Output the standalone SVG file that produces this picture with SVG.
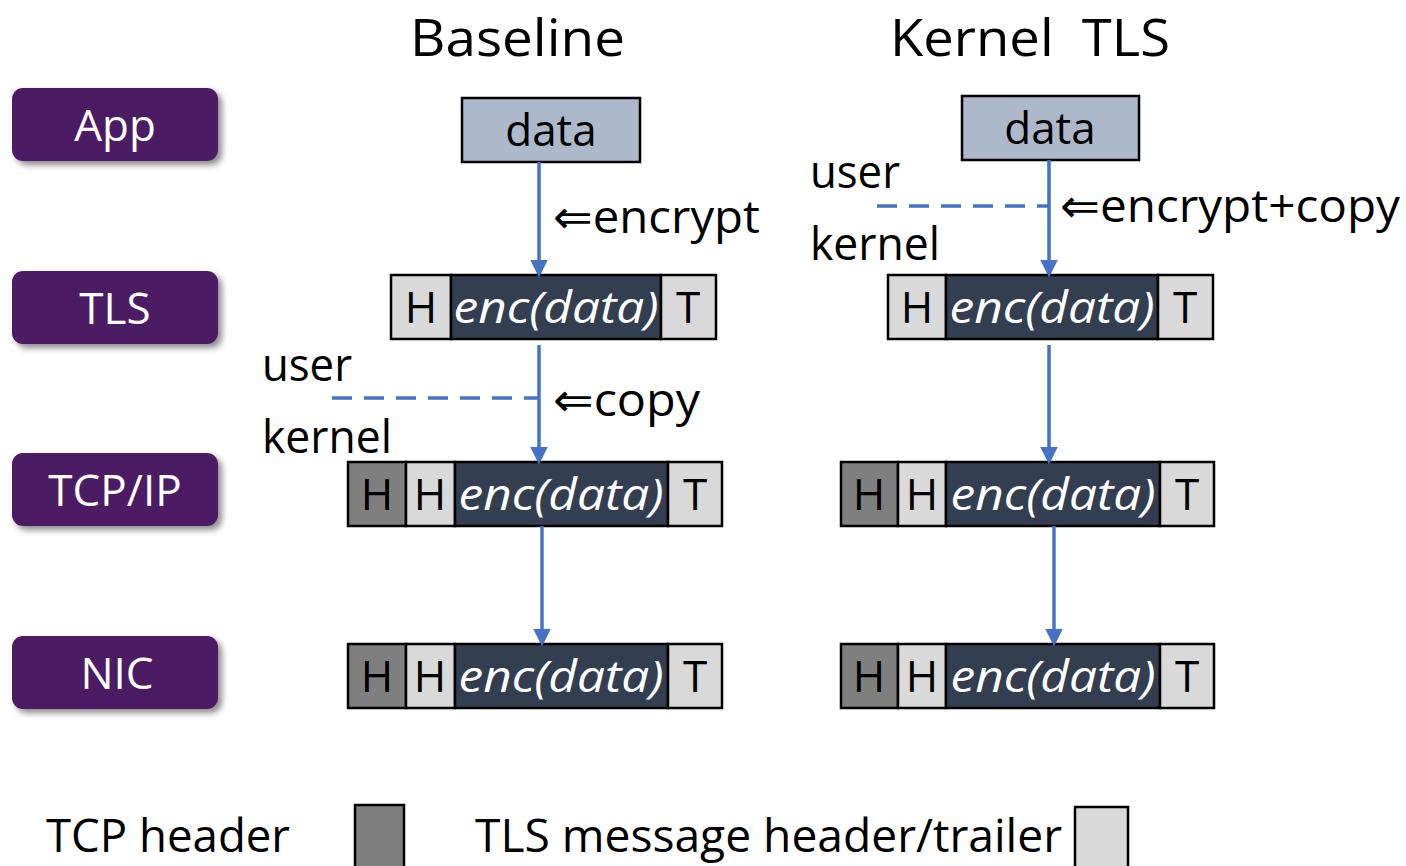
<svg xmlns="http://www.w3.org/2000/svg" width="1406" height="866" viewBox="0 0 1406 866">
<style>
text{font-family:"Open Sans","Noto Sans","DejaVu Sans",sans-serif;fill:#000}
.title{font-size:52px}
.lbl{font-size:46px}
.btn{fill:#4b1d63}
.btxt{font-size:44px;fill:#fff;text-anchor:middle}
.cell{stroke:#000;stroke-width:2.5}
.tcp{fill:#7f7f7f}
.tls{fill:#d9d9d9}
.enc{fill:#333f50}
.data{fill:#adb9ca;stroke:#000;stroke-width:2.5}
.ch{font-size:44px;text-anchor:middle}
.et{font-size:44px;font-style:italic;fill:#fff;text-anchor:middle}
.arr{stroke:#4472c4;stroke-width:3.5;fill:none;marker-end:url(#ah)}
.dash{stroke:#4472c4;stroke-width:3.5;fill:none;stroke-dasharray:20 12}
</style>
<defs>
<marker id="ah" markerWidth="5" markerHeight="5" refX="4" refY="2.5" orient="auto" markerUnits="strokeWidth"><path d="M0,0 L5,2.5 L0,5 z" fill="#4472c4"/></marker>
<filter id="sh" x="-10%" y="-20%" width="130%" height="160%"><feDropShadow dx="4" dy="4" stdDeviation="3" flood-color="#000" flood-opacity="0.45"/></filter>
</defs>

<g id="titles">
<text class="title" x="410" y="56" textLength="215" lengthAdjust="spacingAndGlyphs">Baseline</text>
<text class="title" x="890" y="56" textLength="280" lengthAdjust="spacingAndGlyphs" xml:space="preserve">Kernel  TLS</text>
</g>

<g id="layer-app"><rect class="btn" x="12" y="88" width="206" height="73" rx="11" filter="url(#sh)"/><text class="btxt" x="115" y="141">App</text></g>
<g id="layer-tls"><rect class="btn" x="12" y="271" width="206" height="73" rx="11" filter="url(#sh)"/><text class="btxt" x="115" y="324">TLS</text></g>
<g id="layer-tcpip"><rect class="btn" x="12" y="453" width="206" height="73" rx="11" filter="url(#sh)"/><text class="btxt" x="115" y="506">TCP/IP</text></g>
<g id="layer-nic"><rect class="btn" x="12" y="636" width="206" height="73" rx="11" filter="url(#sh)"/><text class="btxt" x="117" y="689">NIC</text></g>

<g id="base-data"><rect class="data" x="462" y="98" width="178" height="64"/><text class="ch" x="551" y="146">data</text></g>
<g id="base-tls">
<rect class="cell tls" x="391" y="275" width="60" height="64"/>
<rect class="cell enc" x="451" y="275" width="210" height="64"/>
<rect class="cell tls" x="661" y="275" width="55" height="64"/>
<text class="ch" x="421" y="323">H</text>
<text class="et" x="556" y="323" textLength="205" lengthAdjust="spacingAndGlyphs">enc(data)</text>
<text class="ch" x="688" y="323">T</text>
</g>
<g id="base-tcp">
<rect class="cell tcp" x="348" y="462" width="58" height="64"/>
<rect class="cell tls" x="406" y="462" width="49" height="64"/>
<rect class="cell enc" x="455" y="462" width="213" height="64"/>
<rect class="cell tls" x="668" y="462" width="54" height="64"/>
<text class="ch" x="377" y="510">H</text>
<text class="ch" x="430" y="510">H</text>
<text class="et" x="561" y="510" textLength="205" lengthAdjust="spacingAndGlyphs">enc(data)</text>
<text class="ch" x="695" y="510">T</text>
</g>
<g id="base-nic">
<rect class="cell tcp" x="348" y="644" width="58" height="64"/>
<rect class="cell tls" x="406" y="644" width="49" height="64"/>
<rect class="cell enc" x="455" y="644" width="213" height="64"/>
<rect class="cell tls" x="668" y="644" width="54" height="64"/>
<text class="ch" x="377" y="692">H</text>
<text class="ch" x="430" y="692">H</text>
<text class="et" x="561" y="692" textLength="205" lengthAdjust="spacingAndGlyphs">enc(data)</text>
<text class="ch" x="695" y="692">T</text>
</g>

<g id="ktls-data"><rect class="data" x="962" y="96" width="177" height="64"/><text class="ch" x="1050" y="144">data</text></g>
<g id="ktls-tls">
<rect class="cell tls" x="888" y="275" width="58" height="64"/>
<rect class="cell enc" x="946" y="275" width="212" height="64"/>
<rect class="cell tls" x="1158" y="275" width="55" height="64"/>
<text class="ch" x="917" y="323">H</text>
<text class="et" x="1052" y="323" textLength="205" lengthAdjust="spacingAndGlyphs">enc(data)</text>
<text class="ch" x="1185" y="323">T</text>
</g>
<g id="ktls-tcp">
<rect class="cell tcp" x="841" y="462" width="57" height="64"/>
<rect class="cell tls" x="898" y="462" width="48" height="64"/>
<rect class="cell enc" x="946" y="462" width="214" height="64"/>
<rect class="cell tls" x="1160" y="462" width="54" height="64"/>
<text class="ch" x="869" y="510">H</text>
<text class="ch" x="922" y="510">H</text>
<text class="et" x="1053" y="510" textLength="205" lengthAdjust="spacingAndGlyphs">enc(data)</text>
<text class="ch" x="1187" y="510">T</text>
</g>
<g id="ktls-nic">
<rect class="cell tcp" x="841" y="644" width="57" height="64"/>
<rect class="cell tls" x="898" y="644" width="48" height="64"/>
<rect class="cell enc" x="946" y="644" width="214" height="64"/>
<rect class="cell tls" x="1160" y="644" width="54" height="64"/>
<text class="ch" x="869" y="692">H</text>
<text class="ch" x="922" y="692">H</text>
<text class="et" x="1053" y="692" textLength="205" lengthAdjust="spacingAndGlyphs">enc(data)</text>
<text class="ch" x="1187" y="692">T</text>
</g>

<g id="connectors">
<line class="arr" x1="539" y1="162" x2="539" y2="274"/>
<line class="arr" x1="539" y1="345" x2="539" y2="461"/>
<line class="arr" x1="542" y1="526" x2="542" y2="643"/>
<line class="dash" x1="332" y1="398" x2="539" y2="398"/>
<line class="arr" x1="1049" y1="160" x2="1049" y2="274"/>
<line class="arr" x1="1049" y1="345" x2="1049" y2="461"/>
<line class="arr" x1="1054" y1="526" x2="1054" y2="643"/>
<line class="dash" x1="877" y1="206" x2="1049" y2="206"/>
</g>

<g id="labels">
<text class="lbl" x="553" y="233" textLength="207" lengthAdjust="spacingAndGlyphs">⇐encrypt</text>
<text class="lbl" x="262" y="381" textLength="90" lengthAdjust="spacingAndGlyphs">user</text>
<text class="lbl" x="262" y="453" textLength="130" lengthAdjust="spacingAndGlyphs">kernel</text>
<text class="lbl" x="553" y="416" textLength="147" lengthAdjust="spacingAndGlyphs">⇐copy</text>
<text class="lbl" x="810" y="188" textLength="90" lengthAdjust="spacingAndGlyphs">user</text>
<text class="lbl" x="810" y="260" textLength="130" lengthAdjust="spacingAndGlyphs">kernel</text>
<text class="lbl" x="1060" y="222" textLength="340" lengthAdjust="spacingAndGlyphs">⇐encrypt+copy</text>
</g>

<g id="legend">
<text class="lbl" x="46" y="852" textLength="244" lengthAdjust="spacingAndGlyphs">TCP header</text>
<rect class="cell tcp" x="355" y="805" width="49" height="66"/>
<text class="lbl" x="475" y="852" textLength="587" lengthAdjust="spacingAndGlyphs">TLS message header/trailer</text>
<rect class="cell tls" x="1075" y="807" width="53" height="64"/>
</g>
</svg>
